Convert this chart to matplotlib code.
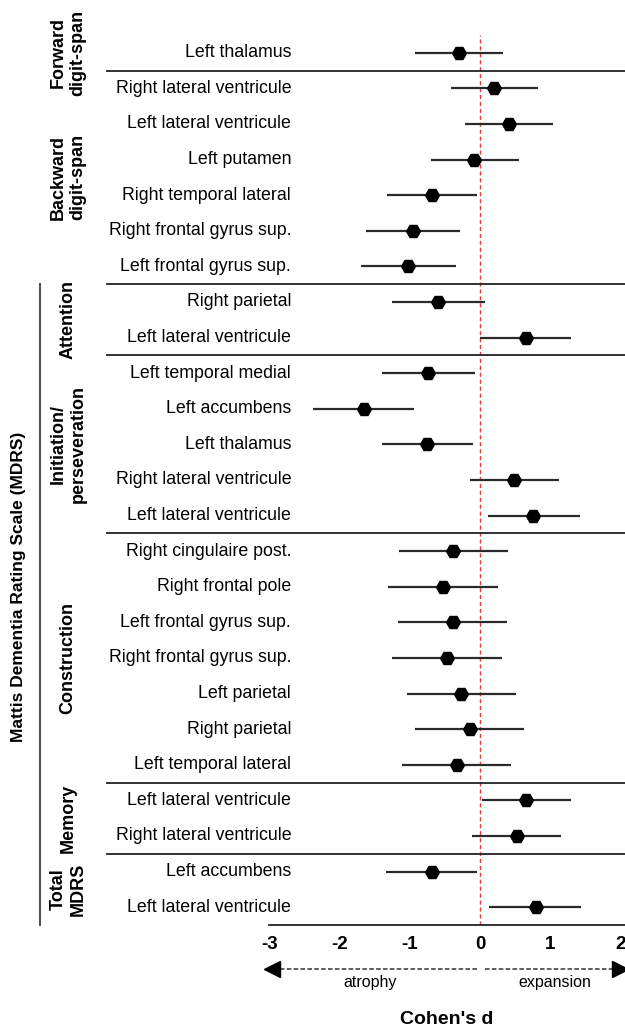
import matplotlib
matplotlib.use('Agg')
import matplotlib.pyplot as plt
import matplotlib.transforms as mtransforms

plt.rcParams['font.family'] = ['Liberation Sans', 'DejaVu Sans']
plt.rcParams['axes.unicode_minus'] = False

# Données
groups = ['Forward\ndigit-span', 'Backward\ndigit-span', 'Attention',
          'Initiation/\nperseveration', 'Construction', 'Memory', 'Total\nMDRS']
group_sizes = [1, 6, 2, 5, 7, 2, 2]

regions = [
    'Left thalamus',
    'Right lateral ventricule', 'Left lateral ventricule', 'Left putamen',
    'Right temporal lateral', 'Right frontal gyrus sup.', 'Left frontal gyrus sup.',
    'Right parietal', 'Left lateral ventricule',
    'Left temporal medial', 'Left accumbens', 'Left thalamus',
    'Right lateral ventricule', 'Left lateral ventricule',
    'Right cingulaire post.', 'Right frontal pole', 'Left frontal gyrus sup.',
    'Right frontal gyrus sup.', 'Left parietal', 'Right parietal',
    'Left temporal lateral',
    'Left lateral ventricule', 'Right lateral ventricule',
    'Left accumbens', 'Left lateral ventricule',
]
cohen_d = [-0.30, 0.20, 0.41, -0.08, -0.69, -0.96, -1.02, -0.60, 0.65,
           -0.74, -1.66, -0.75, 0.48, 0.76, -0.38, -0.53, -0.39, -0.47,
           -0.27, -0.15, -0.33, 0.66, 0.53, -0.69, 0.79]
ci_low = [-0.93, -0.42, -0.22, -0.70, -1.33, -1.63, -1.69, -1.26, 0.00,
          -1.40, -2.38, -1.40, -0.15, 0.11, -1.16, -1.31, -1.17, -1.25,
          -1.04, -0.93, -1.11, 0.02, -0.11, -1.34, 0.13]
ci_high = [0.33, 0.83, 1.04, 0.55, -0.04, -0.28, -0.34, 0.07, 1.30,
           -0.07, -0.94, -0.10, 1.13, 1.42, 0.40, 0.25, 0.39, 0.31,
           0.51, 0.63, 0.44, 1.29, 1.15, -0.05, 1.44]
x_ticks = [-3, -2, -1, 0, 1, 2]

fig = plt.figure(figsize=(6.25, 10.32), dpi=100)
ax = fig.add_axes([0.4312, 0.1037, 0.5688, 0.8624])

y = list(range(len(regions)))
ax.hlines(y, ci_low, ci_high, color='#2a2a2a', lw=1.6, zorder=2)
ax.plot(cohen_d, y, 'H', color='black', ms=10, zorder=3)
ax.axvline(0, color='#e04040', lw=1.0, ls=(0, (3, 2)), zorder=1)

ax.set_xlim(-3, 2.064)
ax.set_ylim(len(regions) - 0.5, -0.5)
ax.set_xticks(x_ticks)
ax.set_xticklabels([str(t) for t in x_ticks], fontsize=13.5, fontweight='bold')
ax.tick_params(axis='x', length=0, pad=8)
ax.set_yticks([])
for s in ['top', 'left', 'right']:
    ax.spines[s].set_visible(False)
ax.spines['bottom'].set_linewidth(1.3)
ax.spines['bottom'].set_color('#222222')

# textes des régions et séparateurs
trans = mtransforms.blended_transform_factory(fig.transFigure, ax.transData)
for i, name in enumerate(regions):
    ax.text(0.466, i, name, transform=trans, ha='right', va='center',
            fontsize=12.8)

start = 0
for g, n in zip(groups, group_sizes):
    mid = start + (n - 1) / 2
    ax.text(0.109, mid, g, transform=trans, rotation=90, ha='center',
            va='center', fontsize=13, fontweight='bold', multialignment='center')
    end = start + n
    if end < len(regions):
        ax.plot([0.172, 1.0], [end - 0.5, end - 0.5], transform=trans,
                color='#222222', lw=1.3, clip_on=False)
    start = end

ax.plot([0.064, 0.064], [6.5, 24.5], transform=trans, color='#555555',
        lw=1.5, clip_on=False)
ax.text(0.029, 15.0, 'Mattis Dementia Rating Scale (MDRS)', transform=trans,
        rotation=90, ha='center', va='center', fontsize=12.5, fontweight='bold')

# flèches atrophie / expansion
trans2 = mtransforms.blended_transform_factory(ax.transData, fig.transFigure)
ya = 0.061
ax.plot([-2.95, -0.05], [ya, ya], transform=trans2, color='#333333', lw=1.1,
        ls=(0, (3, 1.5)), clip_on=False)
ax.plot([0.07, 1.98], [ya, ya], transform=trans2, color='#333333', lw=1.1,
        ls=(0, (3, 1.5)), clip_on=False)
ax.plot([-2.97], [ya], '<', transform=trans2, color='black', ms=11, clip_on=False)
ax.plot([1.99], [ya], '>', transform=trans2, color='black', ms=11, clip_on=False)
ax.text(-1.57, 0.0475, 'atrophy', transform=trans2, ha='center', va='center',
        fontsize=11.5)
ax.text(1.06, 0.0475, 'expansion', transform=trans2, ha='center', va='center',
        fontsize=11.5)
ax.text(-0.47, 0.0125, "Cohen's d", transform=trans2, ha='center', va='center',
        fontsize=14, fontweight='bold')

fig.savefig('out.png', dpi=100)
